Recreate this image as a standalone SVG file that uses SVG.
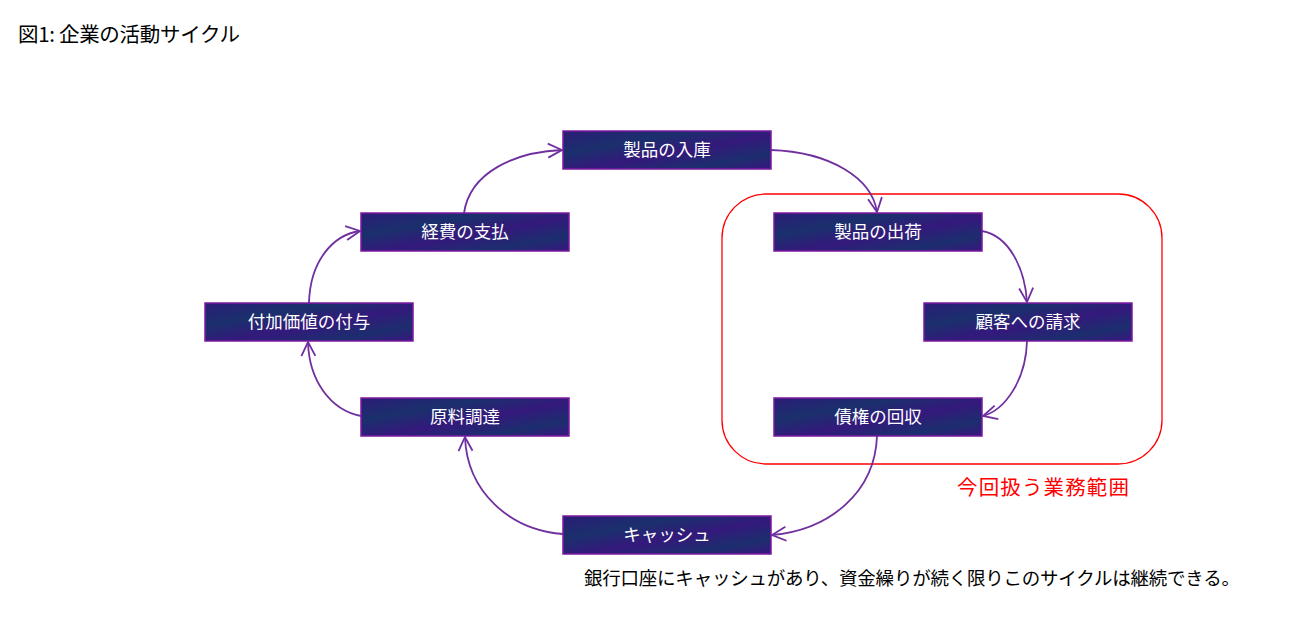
<svg xmlns="http://www.w3.org/2000/svg" width="1307" height="624" viewBox="0 0 1307 624">
<defs>
<linearGradient id="boxfill" x1="0" y1="0" x2="1" y2="1">
<stop offset="0" stop-color="#2c1c78"/>
<stop offset="0.3" stop-color="#1a306c"/>
<stop offset="0.55" stop-color="#34197c"/>
<stop offset="0.8" stop-color="#1c2e6e"/>
<stop offset="1" stop-color="#3a1680"/>
</linearGradient>
<marker id="arr" markerUnits="userSpaceOnUse" markerWidth="18" markerHeight="18" viewBox="0 0 18 18" refX="16" refY="9" orient="auto">
<path d="M2,2 L16,9 L2,16" fill="none" stroke="#7030a0" stroke-width="1.8"/>
</marker>
<style>
.box{fill:url(#boxfill);stroke:#7d1aa0;stroke-width:1.5}
.lbl{font-family:"Noto Sans CJK JP","Noto Sans",sans-serif;font-size:17.5px;fill:#ffffff;text-anchor:middle}
.con{fill:none;stroke:#7030a0;stroke-width:1.8;marker-end:url(#arr)}
.txt{font-family:"Noto Sans CJK JP","Noto Sans",sans-serif;fill:#000000}
</style>
</defs>
<rect width="1307" height="624" fill="#ffffff"/>
<text class="txt" x="18" y="42" font-size="20.5" textLength="222">図1: 企業の活動サイクル</text>

<rect x="722" y="194" width="440" height="270" rx="44" ry="44" fill="none" stroke="#ff0000" stroke-width="1.3"/>
<text x="957" y="495" font-family="'Noto Sans CJK JP','Noto Sans',sans-serif" font-size="20.5" fill="#ff0000" textLength="172">今回扱う業務範囲</text>

<g id="connectors">
<path class="con" d="M464,213 C470,172 515,152 562,150"/>
<path class="con" d="M771,150 C830,152 872,178 877,212"/>
<path class="con" d="M982,231 C1010,236 1025,270 1027,302"/>
<path class="con" d="M1027,341 C1026,380 1005,410 983,416"/>
<path class="con" d="M877,436 C875,492 830,530 772,535"/>
<path class="con" d="M563,534 C510,530 467,492 465,437"/>
<path class="con" d="M361,416 C330,410 309,380 308,342"/>
<path class="con" d="M309,303 C310,262 332,235 360,231"/>
</g>

<g id="n-nyuko"><rect class="box" x="563" y="131" width="208" height="38"/><text class="lbl" x="667" y="156">製品の入庫</text></g>
<g id="n-keihi"><rect class="box" x="361" y="213" width="208" height="38"/><text class="lbl" x="465" y="238">経費の支払</text></g>
<g id="n-shukka"><rect class="box" x="774" y="213" width="208" height="38"/><text class="lbl" x="878" y="238">製品の出荷</text></g>
<g id="n-fuka"><rect class="box" x="205" y="303" width="208" height="38"/><text class="lbl" x="309" y="328">付加価値の付与</text></g>
<g id="n-seikyu"><rect class="box" x="924" y="303" width="208" height="38"/><text class="lbl" x="1028" y="328">顧客への請求</text></g>
<g id="n-genryo"><rect class="box" x="361" y="398" width="208" height="38"/><text class="lbl" x="465" y="423">原料調達</text></g>
<g id="n-saiken"><rect class="box" x="774" y="398" width="208" height="38"/><text class="lbl" x="878" y="423">債権の回収</text></g>
<g id="n-cash"><rect class="box" x="563" y="516" width="208" height="38"/><text class="lbl" x="667" y="541">キャッシュ</text></g>

<text class="txt" x="584" y="585" font-size="18.5" textLength="656">銀行口座にキャッシュがあり、資金繰りが続く限りこのサイクルは継続できる。</text>
</svg>
